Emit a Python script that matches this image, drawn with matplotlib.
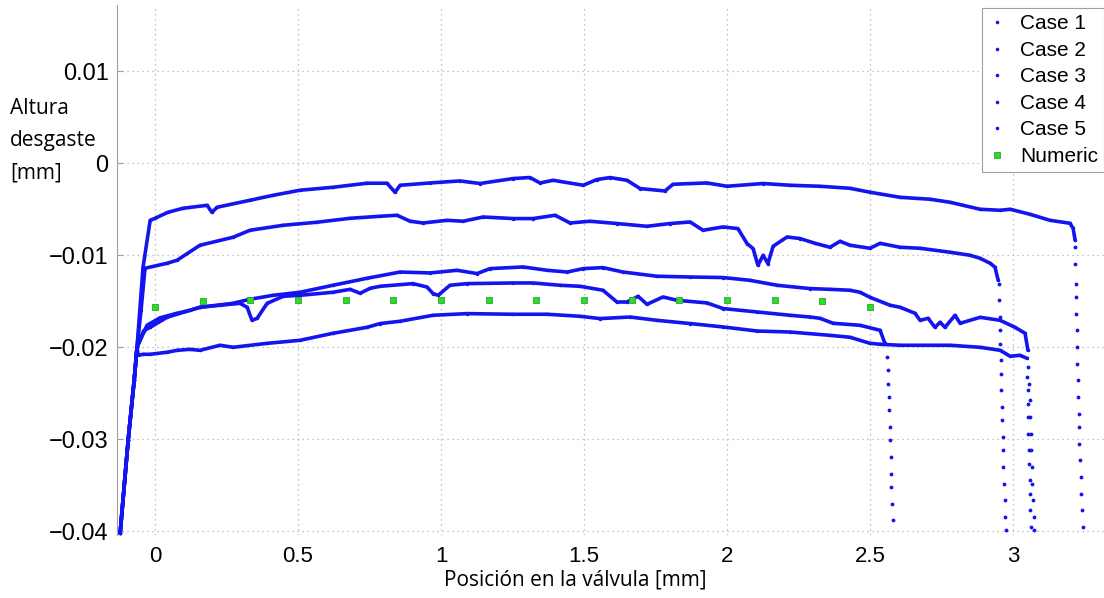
import matplotlib
matplotlib.use("Agg")
import matplotlib.pyplot as plt
import numpy as np

# shared steep rise at the start of every measurement
rise_x = [-0.122, -0.094, -0.073, -0.063]
rise_y = [-0.0402, -0.0301, -0.0236, -0.0200]

# Case 1 (top curve)
case1_x = [-0.042, -0.017, 0.0, 0.045, 0.098, 0.182, 0.199, 0.217, 0.332, 0.413, 0.507,
           0.622, 0.741, 0.811, 0.839, 0.857, 0.962, 1.066, 1.136, 1.252, 1.311, 1.346,
           1.392, 1.497, 1.545, 1.591, 1.650, 1.696, 1.783, 1.811, 1.930, 2.000, 2.126,
           2.220, 2.325, 2.430, 2.500, 2.605, 2.710, 2.780, 2.885, 2.955, 2.990, 3.059,
           3.129, 3.199, 3.210, 3.217]
case1_y = [-0.0113, -0.0062, -0.00598, -0.00533, -0.00489, -0.00457, -0.00533, -0.00478,
           -0.00402, -0.00348, -0.00293, -0.00261, -0.00217, -0.00217, -0.00315, -0.00239,
           -0.00214, -0.00192, -0.0022, -0.00166, -0.00155, -0.00214, -0.00185, -0.00239,
           -0.00177, -0.00155, -0.00185, -0.00275, -0.00301, -0.00228, -0.00214, -0.0025,
           -0.0022, -0.00239, -0.0025, -0.00272, -0.00315, -0.0037, -0.00391, -0.00424,
           -0.005, -0.00511, -0.005, -0.00554, -0.0062, -0.00652, -0.00707, -0.00837]
case1_drop_x = [3.217, 3.218, 3.219, 3.220, 3.221, 3.222, 3.224, 3.225, 3.227, 3.228, 3.229,
                3.231, 3.232, 3.234, 3.236, 3.238, 3.241, 3.245]
case1_drop_y = [-0.0091, -0.01092, -0.01308, -0.01453, -0.01634, -0.01815, -0.01997,
                -0.02177, -0.02359, -0.0254, -0.02721, -0.02866, -0.03047, -0.03228,
                -0.0341, -0.0359, -0.03772, -0.03953]

# Case 2
case2_x = [-0.049, -0.035, 0.042, 0.077, 0.157, 0.273, 0.332, 0.448, 0.566, 0.682, 0.787,
           0.846, 0.892, 0.937, 1.021, 1.077, 1.147, 1.252, 1.322, 1.399, 1.451, 1.521,
           1.615, 1.720, 1.801, 1.871, 1.916, 1.986, 2.038, 2.070, 2.091, 2.108, 2.126,
           2.143, 2.161, 2.210, 2.255, 2.308, 2.360, 2.395, 2.430, 2.500, 2.535, 2.605,
           2.675, 2.780, 2.850, 2.885, 2.920, 2.937, 2.948]
case2_y = [-0.0160, -0.01141, -0.01087, -0.01054, -0.00891, -0.00804, -0.00728, -0.00674,
           -0.00641, -0.00598, -0.00576, -0.00565, -0.0063, -0.00649, -0.0062, -0.0063,
           -0.00584, -0.00601, -0.00601, -0.00565, -0.00649, -0.0063, -0.00655, -0.00685,
           -0.00655, -0.00638, -0.00728, -0.00692, -0.0071, -0.00873, -0.00927, -0.01109,
           -0.0100, -0.0109, -0.00902, -0.00801, -0.00818, -0.0087, -0.00913, -0.00848,
           -0.00891, -0.00924, -0.0087, -0.00913, -0.00924, -0.00967, -0.0100, -0.01033,
           -0.01087, -0.0113, -0.01272]
case2_drop_x = [2.951, 2.952, 2.953, 2.955, 2.956, 2.957, 2.958, 2.959, 2.961, 2.962, 2.964,
                2.965, 2.966, 2.969, 2.971, 2.973, 2.976]
case2_drop_y = [-0.01308, -0.01489, -0.01671, -0.01815, -0.0196, -0.02141, -0.02286,
                -0.02467, -0.02649, -0.02793, -0.02975, -0.0312, -0.03301, -0.03482,
                -0.03663, -0.03845, -0.03989]

# Case 3
case3_x = [-0.040, -0.017, 0.042, 0.157, 0.273, 0.332, 0.413, 0.507, 0.622, 0.741, 0.857,
           0.962, 1.056, 1.126, 1.171, 1.287, 1.371, 1.441, 1.497, 1.566, 1.636, 1.755,
           1.871, 1.986, 2.080, 2.175, 2.290, 2.360, 2.430, 2.465, 2.500, 2.570, 2.605,
           2.657, 2.675, 2.703, 2.727, 2.745, 2.762, 2.797, 2.815, 2.885, 2.955, 3.007,
           3.042, 3.052]
case3_y = [-0.0182, -0.01783, -0.01674, -0.01565, -0.01522, -0.01478, -0.01435, -0.01402,
           -0.01326, -0.0125, -0.01182, -0.01192, -0.01163, -0.01199, -0.01145, -0.01127,
           -0.01163, -0.01182, -0.01145, -0.01134, -0.01182, -0.01228, -0.01236, -0.01242,
           -0.01272, -0.01326, -0.01362, -0.0137, -0.0138, -0.01402, -0.01457, -0.01543,
           -0.01565, -0.0163, -0.01707, -0.01685, -0.01783, -0.01728, -0.01783, -0.01652,
           -0.01739, -0.01674, -0.01707, -0.01783, -0.01848, -0.02033]
case3_drop_x = [3.054, 3.056, 3.058, 3.060, 3.062, 3.064, 3.066, 3.068, 3.070, 3.072, 3.074]
case3_drop_y = [-0.02214, -0.02395, -0.02576, -0.02758, -0.02938, -0.0312, -0.03301,
                -0.03482, -0.03663, -0.03845, -0.03989]

# Case 4
case4_x = [-0.028, 0.017, 0.077, 0.122, 0.157, 0.227, 0.297, 0.322, 0.339, 0.357, 0.392,
           0.448, 0.507, 0.622, 0.682, 0.717, 0.752, 0.787, 0.902, 0.951, 0.972, 0.990,
           1.031, 1.091, 1.252, 1.322, 1.416, 1.486, 1.566, 1.615, 1.650, 1.689, 1.720,
           1.776, 1.825, 1.930, 1.986, 2.105, 2.220, 2.290, 2.325, 2.371, 2.465, 2.535,
           2.552]
case4_y = [-0.01761, -0.0168, -0.0163, -0.01598, -0.01565, -0.01543, -0.01522, -0.01565,
           -0.01707, -0.01685, -0.01522, -0.01446, -0.01435, -0.01402, -0.0137, -0.01413,
           -0.01359, -0.01337, -0.01308, -0.01345, -0.01416, -0.01435, -0.01326, -0.01308,
           -0.01301, -0.01301, -0.01326, -0.01337, -0.0138, -0.01508, -0.01508, -0.01446,
           -0.01533, -0.01453, -0.01489, -0.01518, -0.01579, -0.01616, -0.01652, -0.01671,
           -0.01685, -0.01739, -0.01761, -0.01815, -0.01957]
case4_drop_x = [2.561, 2.563, 2.564, 2.566, 2.567, 2.569, 2.570, 2.572, 2.574, 2.575, 2.577,
                2.579]
case4_drop_y = [-0.02105, -0.0225, -0.02395, -0.0254, -0.02685, -0.02866, -0.03011,
                -0.03192, -0.03373, -0.03518, -0.03699, -0.0388]

# Case 5 (bottom curve)
case5_x = [-0.059, -0.042, -0.017, 0.042, 0.077, 0.122, 0.157, 0.227, 0.273, 0.392, 0.507,
           0.622, 0.741, 0.787, 0.857, 0.972, 1.091, 1.252, 1.371, 1.486, 1.556, 1.661,
           1.755, 1.871, 1.986, 2.105, 2.220, 2.360, 2.430, 2.500, 2.535, 2.605, 2.780,
           2.885, 2.955, 2.990, 3.024, 3.049]
case5_y = [-0.02087, -0.02076, -0.02076, -0.02054, -0.02033, -0.02022, -0.02033, -0.01978,
           -0.0200, -0.01957, -0.01924, -0.01848, -0.01783, -0.01742, -0.01717, -0.01652,
           -0.01634, -0.01641, -0.01641, -0.01663, -0.01688, -0.01671, -0.01707, -0.01742,
           -0.01779, -0.01823, -0.01834, -0.0187, -0.01891, -0.01957, -0.01967, -0.01978,
           -0.01978, -0.0200, -0.02033, -0.02098, -0.02087, -0.0212]
case5_drop_x = [3.050, 3.051, 3.052, 3.053, 3.054, 3.055, 3.056, 3.058, 3.059, 3.061, 3.063]
case5_drop_y = [-0.02323, -0.02467, -0.02612, -0.02758, -0.02938, -0.0312, -0.03264,
                -0.03446, -0.0359, -0.03772, -0.03953]

# numeric result
numeric_x = [0, 0.1667, 0.3333, 0.5, 0.6667, 0.8333, 1.0, 1.1667, 1.3333, 1.5, 1.6667,
             1.8333, 2.0, 2.1667, 2.3333, 2.5]
numeric_y = [-0.01567, -0.0150, -0.01486, -0.0149, -0.0149, -0.0149, -0.0149, -0.0149,
             -0.0149, -0.0149, -0.0149, -0.0149, -0.0149, -0.01486, -0.0150, -0.01567]

cases = [
    ("Case 1", case1_x, case1_y, case1_drop_x, case1_drop_y),
    ("Case 2", case2_x, case2_y, case2_drop_x, case2_drop_y),
    ("Case 3", case3_x, case3_y, case3_drop_x, case3_drop_y),
    ("Case 4", case4_x, case4_y, case4_drop_x, case4_drop_y),
    ("Case 5", case5_x, case5_y, case5_drop_x, case5_drop_y),
]

blue = "#1414f0"

fig = plt.figure(figsize=(11.04, 5.98), dpi=100)
ax = fig.add_axes([117 / 1104, 1 - 535 / 598, 1 - 117 / 1104, (535 - 5) / 598])

for label, bx, by, dx, dy in cases:
    ax.plot(rise_x + bx, rise_y + by, color=blue, lw=2.6, marker=".", ms=3,
            solid_capstyle="round")
    ax.plot(dx, dy, ls="none", marker=".", ms=3.5, color=blue, label=label)

ax.plot(numeric_x, numeric_y, ls="none", marker="s", ms=5, color="#22e022",
        mec="#3a9a3a", mew=0.6, label="Numeric")

ax.set_xlim(-0.133, 3.318)
ax.set_ylim(-0.0404, 0.0172)
ax.set_xticks([0, 0.5, 1, 1.5, 2, 2.5, 3])
ax.set_xticklabels(["0", "0.5", "1", "1.5", "2", "2.5", "3"])
ax.set_yticks([-0.04, -0.03, -0.02, -0.01, 0, 0.01])
ax.set_yticklabels(["\u22120.04", "\u22120.03", "\u22120.02", "\u22120.01", "0", "0.01"])

ax.grid(True, ls=(0, (1, 3)), color="#b0b0b0", lw=0.9)
for side in ["top", "right", "bottom"]:
    ax.spines[side].set_visible(False)
ax.spines["left"].set_color("#a0a0a0")
ax.tick_params(axis="both", direction="in", color="#a0a0a0", length=4)
ax.tick_params(axis="y", labelsize=17, pad=6)
ax.tick_params(axis="x", labelsize=16, pad=8, length=0)
for t in ax.get_xticklabels() + ax.get_yticklabels():
    t.set_family("Liberation Sans")

fig.text(10 / 1104, 1 - 98 / 598, "Altura\ndesgaste\n[mm]", family="Open Sans",
         fontsize=15, ha="left", va="top", linespacing=1.7)
fig.text(575 / 1104, 1 - 580 / 598, "Posición en la válvula [mm]", family="Open Sans",
         fontsize=15, ha="center", va="center")

leg = ax.legend(loc="upper right", bbox_to_anchor=(1.0, 0.994), borderaxespad=0,
                prop={"family": "Liberation Sans", "size": 15},
                fancybox=False, edgecolor="#a0a0a0", framealpha=1, handlelength=0.8,
                handletextpad=0.7, labelspacing=0.36, borderpad=0.3, markerscale=0.9)
leg.get_frame().set_linewidth(0.8)

fig.savefig("out.png", dpi=100)
